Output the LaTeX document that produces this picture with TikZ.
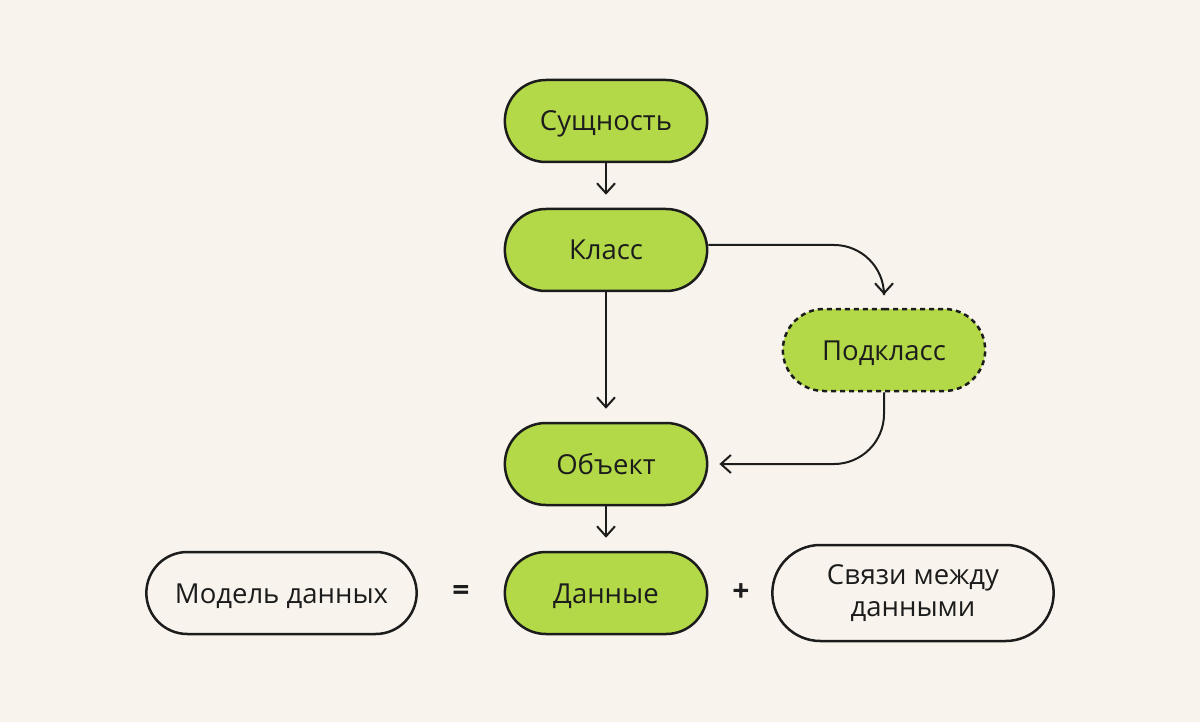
\documentclass[tikz,border=0pt]{standalone}
\usepackage{fontspec}
\setmainfont{Open Sans}
\usetikzlibrary{shapes.misc,arrows.meta}
\definecolor{bg}{HTML}{F8F4ED}
\definecolor{lime}{HTML}{B3D948}
\definecolor{ink}{HTML}{1C1C1C}

\begin{document}
\begin{tikzpicture}[x=1pt,y=-1pt,>={Straight Barb[length=10pt,width=18pt]},
    pill/.style={rounded rectangle,draw=ink,line width=2.5pt,minimum width=209pt,
        minimum height=82pt,text=ink,font=\fontsize{27.5}{32}\selectfont,
        text height=20pt,text depth=0pt},
    filled/.style={pill,fill=lime},
    link/.style={->,draw=ink,line width=2pt}]
    \fill[bg] (0,0) rectangle (1200,722);
    \useasboundingbox (0,0) rectangle (1200,722);
    \foreach \n/\y/\t in {ent/121/Сущность,cls/250/Класс,obj/464/Объект,dat/593/Данные}
    {
        \node[filled] (\n) at (606,\y) {\t};
    }
    \node[filled,dash pattern=on 5pt off 4pt] (sub) at (884,350) {Подкласс};
    \node[pill,minimum width=277pt] (mod) at (281.5,593) {Модель данных};
    \node[pill,minimum width=288pt,minimum height=96pt,align=center,
        text height=,text depth=] (rel) at (913,593) {Связи между\\данными};
    \node[text=ink,font=\fontsize{30}{33}\selectfont\bfseries] (eq) at (461,593) {=};
    \node[text=ink,font=\fontsize{30}{33}\selectfont\bfseries] (pl) at (741,593) {+};
    \foreach \a/\b in {ent/cls,cls/obj,obj/dat}
    {
        \draw[link,shorten >=13pt] (\a.south) -- (\b.north);
    }
    \draw[link,rounded corners=50pt,shorten >=13pt] ([yshift=5pt]cls.east) -| (sub.north);
    \draw[link,rounded corners=50pt,shorten >=11pt] (sub.south) |- (obj.east);
\end{tikzpicture}
\end{document}
